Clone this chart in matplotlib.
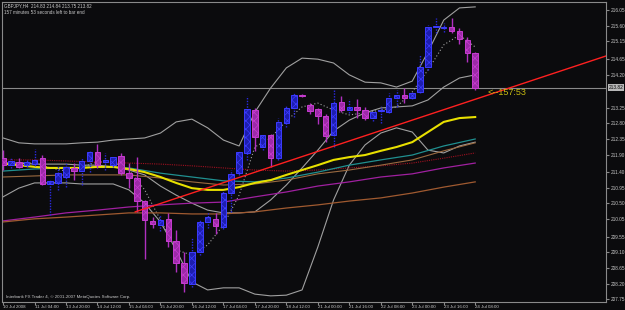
import numpy as np
import matplotlib
matplotlib.use('Agg')
import matplotlib.pyplot as plt
import matplotlib.transforms as mtransforms

plt.rcParams['font.family'] = ['Liberation Sans', 'DejaVu Sans']

# GBPJPY H4 candles, 10 Jul 12:00 .. 24 Jul 08:00
opens = [211.80, 211.60, 211.69, 211.60, 211.63, 211.80, 211.06, 211.09, 211.26, 211.52,
         211.43, 211.72, 211.98, 211.69, 211.60, 211.86, 211.37, 211.23, 210.57, 210.00,
         209.88, 210.06, 209.42, 208.79, 208.19, 209.11, 209.97, 210.06, 209.83, 210.80,
         211.37, 211.95, 213.18, 212.12, 212.46, 211.80, 212.81, 213.24, 213.61, 213.33,
         213.21, 213.01, 212.46, 213.41, 213.18, 213.27, 213.18, 212.95, 213.15, 213.12,
         213.53, 213.61, 213.53, 213.70, 214.42, 215.56, 215.53, 215.56, 215.45, 215.19,
         214.83]
highs = [212.03, 211.80, 211.80, 211.75, 212.06, 211.89, 211.20, 211.60, 211.69, 211.66,
         211.80, 212.03, 212.21, 211.95, 211.83, 211.95, 211.66, 211.83, 210.60, 210.11,
         210.17, 210.23, 209.74, 209.11, 209.54, 210.06, 210.26, 210.23, 210.89, 211.46,
         212.03, 213.58, 213.24, 212.49, 212.49, 212.95, 213.32, 213.70, 213.64, 213.38,
         213.24, 213.07, 213.75, 213.58, 213.50, 213.50, 213.27, 213.18, 213.30, 213.67,
         213.75, 213.81, 213.70, 214.76, 215.62, 215.82, 215.68, 215.82, 215.53, 215.28,
         214.84]
lows = [211.46, 211.52, 211.52, 211.55, 211.57, 211.03, 210.17, 210.89, 210.97, 211.17,
        211.03, 211.40, 211.52, 211.46, 211.55, 211.32, 210.94, 210.26, 208.91, 209.80,
        209.71, 209.25, 208.53, 207.96, 208.10, 209.02, 209.80, 209.62, 209.77, 210.26,
        211.32, 211.75, 212.01, 212.03, 211.55, 211.75, 212.70, 212.98, 213.55, 213.07,
        212.78, 212.26, 212.12, 213.12, 213.10, 212.95, 212.89, 212.86, 212.81, 213.10,
        213.27, 213.38, 213.50, 213.67, 214.33, 215.39, 215.42, 215.39, 215.07, 214.56,
        213.75]
closes = [211.60, 211.72, 211.55, 211.69, 211.75, 211.06, 211.15, 211.37, 211.55, 211.43,
          211.72, 211.98, 211.60, 211.75, 211.83, 211.37, 211.23, 210.57, 210.03, 209.91,
          210.03, 209.42, 208.79, 208.22, 209.11, 209.97, 210.11, 209.85, 210.80, 211.35,
          211.98, 213.21, 212.41, 212.46, 211.80, 212.84, 213.24, 213.61, 213.58, 213.15,
          213.01, 212.44, 213.38, 213.18, 213.27, 213.18, 212.95, 213.12, 213.15, 213.53,
          213.61, 213.53, 213.67, 214.42, 215.56, 215.56, 215.56, 215.45, 215.22, 214.82,
          213.82]

# indicators read every 2 bars
bb_upper = [212.38, 212.24, 212.21, 212.21, 212.21, 212.24, 212.26, 212.32, 212.35, 212.38,
            212.52, 212.84, 212.92, 212.67, 212.32, 212.15, 213.12, 213.81, 214.39, 214.67,
            214.64, 214.53, 214.19, 213.98, 213.96, 213.84, 214.01, 214.85, 215.76, 216.11,
            216.14]
bb_mid = [211.66, 211.66, 211.63, 211.63, 211.63, 211.60, 211.60, 211.55, 211.46, 211.32,
          211.00, 210.74, 210.51, 210.31, 210.23, 210.23, 210.26, 210.60, 211.03, 211.52,
          212.03, 212.58, 212.89, 213.10, 213.24, 213.27, 213.30, 213.47, 213.84, 214.10,
          214.19]
bb_lower = [210.69, 210.94, 211.09, 211.09, 211.09, 211.06, 211.06, 211.06, 210.89, 210.51,
            209.97, 209.17, 208.25, 208.02, 208.08, 208.08, 207.90, 207.85, 207.87, 208.02,
            209.25, 210.60, 211.60, 212.18, 212.52, 212.67, 212.55, 212.03, 211.95, 212.15,
            212.26]
ma_fast = [211.66, 211.66, 211.66, 211.52, 211.43, 211.55, 211.69, 211.69, 211.46, 210.89,
           210.03, 209.17, 209.02, 209.31, 209.88, 210.74, 212.12, 212.38, 212.87, 213.27,
           213.38, 213.18, 213.04, 213.10, 213.18, 213.27, 213.70, 214.33, 215.05, 215.33,
           214.99]
ma_yellow = [211.64, 211.60, 211.55, 211.52, 211.52, 211.52, 211.55, 211.55, 211.49, 211.40,
             211.26, 211.09, 210.94, 210.89, 210.89, 210.97, 211.09, 211.17, 211.32, 211.46,
             211.60, 211.75, 211.83, 211.89, 212.01, 212.12, 212.26, 212.55, 212.84, 212.95,
             212.98]

# slower averages read every 4 bars
ma_teal = [211.43, 211.49, 211.52, 211.55, 211.52, 211.37, 211.26, 211.15, 211.12, 211.23,
           211.40, 211.60, 211.75, 211.89, 212.15, 212.35]
ma_tan = [211.26, 211.29, 211.32, 211.32, 211.32, 211.23, 211.12, 211.03, 211.06, 211.17,
          211.35, 211.46, 211.60, 211.75, 212.01, 212.24]
ma_maroon = [211.75, 211.75, 211.72, 211.69, 211.66, 211.63, 211.58, 211.52, 211.46, 211.43,
             211.46, 211.52, 211.58, 211.66, 211.80, 211.95]
ma_purple = [210.00, 210.11, 210.23, 210.31, 210.40, 210.46, 210.51, 210.54, 210.69, 210.83,
             211.00, 211.12, 211.26, 211.35, 211.52, 211.66]
ma_orange = [209.97, 210.06, 210.11, 210.17, 210.23, 210.23, 210.20, 210.20, 210.26, 210.37,
             210.46, 210.57, 210.66, 210.80, 210.97, 211.12]

# trend line anchors (bar, price)
trend_x = [16.8, 76.6]
trend_y = [210.26, 214.73]

time_labels = ['10 Jul 2008', '11 Jul 04:00', '13 Jul 20:00', '14 Jul 12:00', '15 Jul 04:00',
               '15 Jul 20:00', '16 Jul 12:00', '17 Jul 04:00', '17 Jul 20:00', '18 Jul 12:00',
               '21 Jul 00:00', '21 Jul 16:00', '22 Jul 08:00', '23 Jul 00:00', '23 Jul 16:00',
               '24 Jul 08:00']
price_ticks = [216.05, 215.60, 215.15, 214.65, 214.20, 213.25, 212.80, 212.35, 211.90,
               211.40, 210.95, 210.50, 210.05, 209.55, 209.10, 208.65, 208.20, 207.75]
last_price = 213.82

bg = '#0b0b0d'
fg = '#c8c8c8'

fig = plt.figure(figsize=(6.25, 3.1), dpi=100, facecolor=bg)
ax = fig.add_axes([2 / 625, 8 / 310, 604 / 625, 300 / 310], facecolor=bg)

n = len(opens)
x = np.arange(n)
x2 = np.arange(0, n, 2)
x4 = np.arange(0, n, 4)

o = np.array(opens)
c = np.array(closes)
up = c >= o

# lines behind candles
ax.plot(x2, bb_upper, color='#a0a0a0', lw=0.8, zorder=2)
ax.plot(x2, bb_mid, color='#a0a0a0', lw=0.8, zorder=2)
ax.plot(x2, bb_lower, color='#a0a0a0', lw=0.8, zorder=2)
ax.plot(x2, ma_fast, color='#a0a0a0', lw=0.8, ls=(0, (1, 2)), zorder=2)
ax.plot(x4, ma_maroon, color='#a01020', lw=0.8, ls=(0, (1, 1)), zorder=2)
ax.plot(x4, ma_tan, color='#9a6a40', lw=0.8, zorder=2)
ax.plot(x4, ma_teal, color='#209090', lw=0.9, zorder=2)
ax.plot(x4, ma_purple, color='#a020a0', lw=0.9, zorder=2)
ax.plot(x4, ma_orange, color='#a05a30', lw=0.9, zorder=2)
ax.plot(x2, ma_yellow, color='#e8e000', lw=1.5, zorder=2)

plt.rcParams['hatch.linewidth'] = 0.5

# wicks
ax.vlines(x[up], np.array(lows)[up], np.array(highs)[up], color='#2a2ae0', lw=1, ls=(0, (1, 1)), zorder=3)
ax.vlines(x[~up], np.array(lows)[~up], np.array(highs)[~up], color='#b030c0', lw=1, zorder=3)

# bodies
body = np.maximum(np.abs(c - o), 0.02)
bottom = np.minimum(o, c)
ax.bar(x[up], body[up], bottom=bottom[up], width=0.7, facecolor='#1e1eb0',
       edgecolor='#3c3cff', hatch='xxxx', lw=0.7, zorder=4)
ax.bar(x[~up], body[~up], bottom=bottom[~up], width=0.7, facecolor='#9c2aa8',
       edgecolor='#c83cd0', hatch='xxxx', lw=0.7, zorder=4)

# trend line and current price line
ax.plot(trend_x, trend_y, color='#ff2020', lw=1.0, zorder=5)
ax.axhline(last_price, color='#8a8a8a', lw=0.8, zorder=1)
ax.text(61.5, 213.67, '<--157:53', color='#c8bc10', fontsize=6.5, va='center', ha='left', zorder=6)

ax.set_xlim(-0.13, 76.62)
ax.set_ylim(207.674, 216.28)

for s in ax.spines.values():
    s.set_color('#8a8a8a')
    s.set_linewidth(0.8)

ax.yaxis.tick_right()
ax.set_yticks(price_ticks)
ax.set_yticklabels([f'{p:.2f}' for p in price_ticks])
ax.tick_params(axis='y', colors='#8a8a8a', labelcolor=fg, labelsize=3.4, length=2, pad=1.5)
ax.set_xticks(x4)
ax.set_xticklabels(time_labels, ha='left')
ax.tick_params(axis='x', colors='#8a8a8a', labelcolor=fg, labelsize=3.2, length=2, pad=0.3)

trans = mtransforms.blended_transform_factory(ax.transAxes, ax.transData)
ax.text(1.0045, last_price, f'{last_price:.2f}', transform=trans, fontsize=3.4, color='#000000',
        va='center', ha='left', bbox=dict(boxstyle='square,pad=0.2', fc='#b8b8b8', ec='none'))

ax.text(0.004, 0.995, 'GBPJPY,H4  214.83 214.84 213.75 213.82', transform=ax.transAxes,
        fontsize=3.3, color=fg, va='top', ha='left')
ax.text(0.004, 0.972, '157 minutes 53 seconds left to bar end', transform=ax.transAxes,
        fontsize=3.3, color=fg, va='top', ha='left')
ax.text(0.006, 0.01, 'Interbank FX Trader 4, \u00a9 2001-2007 MetaQuotes Software Corp.',
        transform=ax.transAxes, fontsize=3.2, color=fg, va='bottom', ha='left')

fig.savefig('out.png', dpi=100, facecolor=bg)
